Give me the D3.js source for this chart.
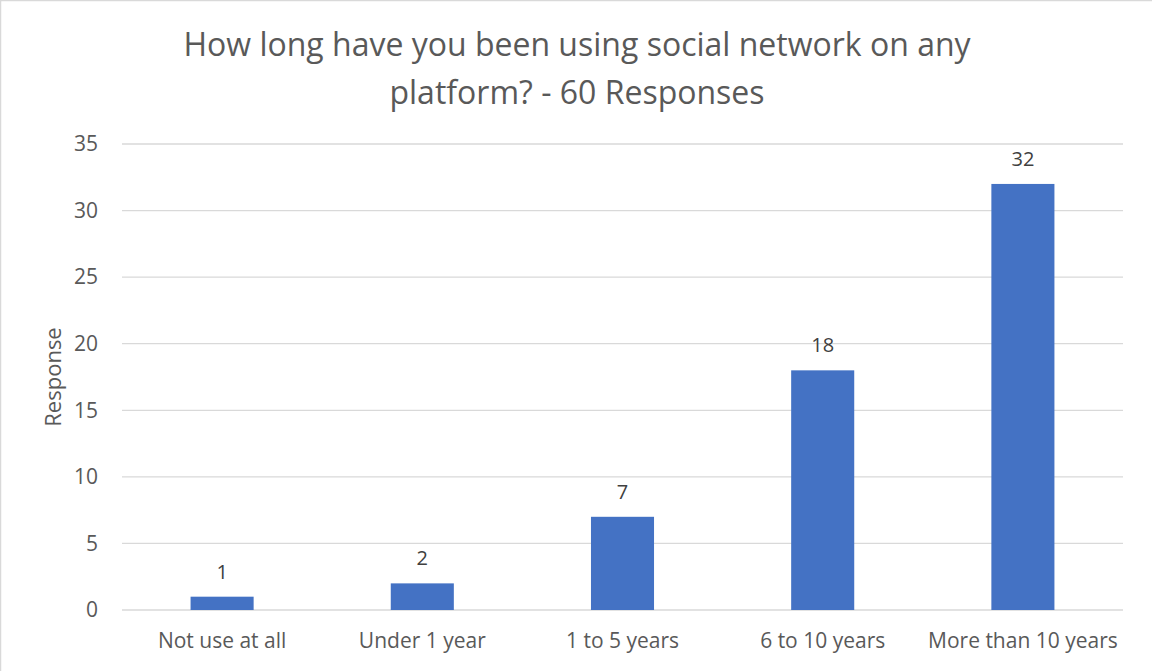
<!DOCTYPE html>
<html><head><meta charset="utf-8">
<script src="https://cdn.jsdelivr.net/npm/d3@7"></script>
<style>
html,body{margin:0;padding:0;background:#fff;}
svg{display:block;}
text{font-family:"Open Sans","Noto Sans",sans-serif;}
</style></head>
<body>
<script>
const categories = ["Not use at all","Under 1 year","1 to 5 years","6 to 10 years","More than 10 years"];
const values = [1,2,7,18,32];
const yTicks = [0,5,10,15,20,25,30,35];
const titleLines = ["How long have you been using social network on any","platform? - 60 Responses"];
const yTitle = "Response";

const W=1152,H=671;
const m={left:122,right:29,top:144,bottom:61};
const svg=d3.select("body").append("svg").attr("width",W).attr("height",H);
svg.append("rect").attr("x",0.5).attr("y",0.5).attr("width",W+5).attr("height",H+5)
  .attr("fill","#fff").attr("stroke","#d9d9d9").attr("stroke-width",1.5);

const x=d3.scaleBand().domain(categories).range([m.left,W-m.right]).paddingInner(0.685).paddingOuter(0.3425);
const y=d3.scaleLinear().domain([0,35]).range([H-m.bottom,m.top]);

// gridlines
svg.append("g").selectAll("line").data(yTicks).join("line")
  .attr("x1",m.left).attr("x2",W-m.right)
  .attr("y1",d=>y(d)).attr("y2",d=>y(d))
  .attr("stroke","#d9d9d9").attr("stroke-width",1.3);

// y labels
const ya=svg.append("g").attr("transform",`translate(${m.left},0)`)
  .call(d3.axisLeft(y).tickValues(yTicks).tickSize(0).tickPadding(24));
ya.select(".domain").remove();
ya.selectAll("text").attr("font-size",21).attr("fill","#595959").attr("font-family","'Open Sans',sans-serif");

// x labels
const xa=svg.append("g").attr("transform",`translate(0,${H-m.bottom})`)
  .call(d3.axisBottom(x).tickSize(0).tickPadding(23));
xa.select(".domain").remove();
xa.selectAll("text").attr("font-size",21).attr("fill","#595959").attr("font-family","'Open Sans',sans-serif");

// bars
svg.append("g").selectAll("rect").data(values).join("rect")
  .attr("x",(d,i)=>x(categories[i])).attr("width",x.bandwidth())
  .attr("y",d=>y(d)).attr("height",d=>y(0)-y(d)).attr("fill","#4472c4");

// data labels
svg.append("g").selectAll("text").data(values).join("text")
  .attr("x",(d,i)=>x(categories[i])+x.bandwidth()/2).attr("y",d=>y(d)-18)
  .attr("text-anchor","middle").attr("font-size",20).attr("fill","#404040").text(d=>d);

// title
svg.append("g").selectAll("text").data(titleLines).join("text")
  .attr("x",577).attr("y",(d,i)=>56+i*48).attr("text-anchor","middle")
  .attr("font-size",32).attr("fill","#595959").text(d=>d);

// y title
svg.append("text").attr("transform",`translate(61,${(y(0)+y(35))/2}) rotate(-90)`)
  .attr("text-anchor","middle").attr("font-size",22).attr("fill","#595959").text(yTitle);
</script>
</body></html>
